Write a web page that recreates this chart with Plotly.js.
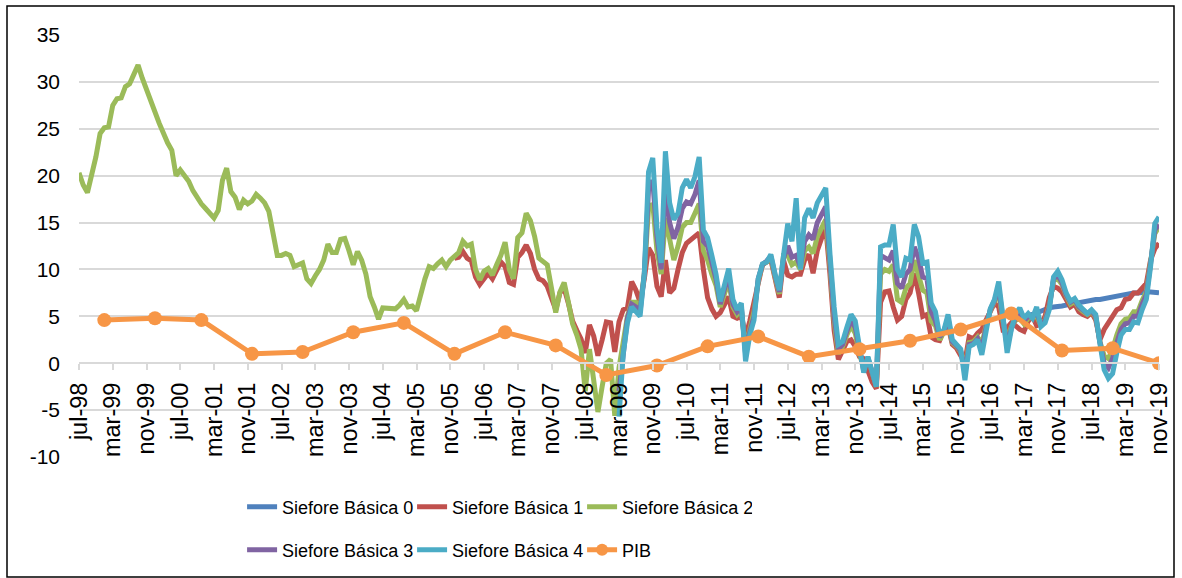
<!DOCTYPE html>
<html>
<head>
<meta charset="utf-8">
<script src="https://cdn.plot.ly/plotly-3.0.1.min.js"></script>
<style>html,body{margin:0;padding:0;background:#fff;}#chart{width:1182px;height:578px;}</style>
</head>
<body>
<div id="chart"></div>
<script>
// Monthly categories: jul-98 .. nov-19 (257 months)
var monthNames = ['ene','feb','mar','abr','may','jun','jul','ago','sep','oct','nov','dic'];
var months = [];
for (var i = 0; i < 257; i++) {
  var k = 6 + i;
  var yr = 1998 + Math.floor(k / 12);
  months.push(monthNames[k % 12] + '-' + String(yr % 100).padStart(2, '0'));
}

var tickLabels = ['jul-98','mar-99','nov-99','jul-00','mar-01','nov-01','jul-02','mar-03','nov-03',
  'jul-04','mar-05','nov-05','jul-06','mar-07','nov-07','jul-08','mar-09','nov-09','jul-10','mar-11',
  'nov-11','jul-12','mar-13','nov-13','jul-14','mar-15','nov-15','jul-16','mar-17','nov-17','jul-18',
  'mar-19','nov-19'];

var yTickVals = [-10, -5, 0, 5, 10, 15, 20, 25, 30, 35];
var yTickText = ['-10', '-5', '0', '5', '10', '15', '20', '25', '30', '35'];

// Siefore Básica 2: jul-98 .. nov-19
var sb2 = [
  20.3,19.0,18.2,20.0,22.0,24.5,25.1,25.2,27.5,28.2,
  28.3,29.5,29.8,30.8,31.8,30.4,29.3,28.0,26.8,25.6,
  24.4,23.5,22.7,20.0,20.6,20.0,19.4,18.4,17.6,17.0,
  16.5,15.9,15.5,16.3,19.5,20.8,18.3,17.7,16.4,17.4,
  17.0,17.3,18.0,17.6,17.1,16.2,14.0,11.5,11.5,11.7,
  11.5,10.3,10.5,10.7,9.0,8.5,9.3,10.0,11.0,12.7,
  11.8,11.8,13.2,13.3,12.0,10.5,11.9,11.0,9.5,7.1,
  6.0,4.7,5.9,5.9,5.8,5.8,6.2,6.8,6.0,6.1,
  5.6,7.5,9.0,10.3,10.1,10.6,11.0,10.3,11.0,11.4,
  11.8,13.0,12.5,12.7,10.0,8.9,9.8,10.1,9.4,10.5,
  11.5,12.9,10.0,9.0,13.4,13.9,16.0,15.2,13.5,11.2,
  10.8,10.5,8.0,5.4,7.6,8.6,6.5,4.2,3.0,1.5,
  -3.0,1.5,-1.8,-5.2,-2.5,0.0,0.4,-5.6,-0.5,2.0,
  5.0,6.5,6.5,6.0,9.5,16.5,17.0,12.0,9.5,15.5,
  13.0,11.0,12.5,14.5,15.0,15.0,16.0,17.0,12.0,11.0,
  9.5,8.3,6.0,7.5,8.8,6.0,5.2,5.7,1.5,3.6,
  5.5,8.8,10.5,10.8,11.2,9.2,7.4,11.5,11.5,10.5,
  10.8,10.0,12.0,12.4,11.7,13.5,14.3,15.3,10.5,4.5,
  1.0,1.8,3.0,4.0,3.2,1.0,-0.5,0.5,-1.0,-2.5,
  9.5,10.0,9.8,10.5,6.8,6.5,8.0,8.5,11.0,9.5,
  7.8,7.5,4.5,4.0,2.5,3.3,4.4,2.2,1.8,1.2,
  -0.5,2.2,2.3,2.8,2.0,4.0,5.6,6.6,7.5,4.5,
  2.5,3.9,4.6,4.8,4.2,4.8,4.9,5.0,4.0,4.6,
  6.2,8.8,9.0,8.4,7.2,6.3,6.6,5.9,5.5,5.2,
  5.5,4.9,2.3,0.8,0.5,1.5,3.0,4.2,4.7,4.8,
  5.5,5.5,6.7,7.6,10.8,13.8,14.6
];

// Siefore Básica 1: from dic-05
var sb1Start = 89;
var sb1 = [
  11.2,11.3,11.9,11.2,10.9,9.2,8.4,9.1,9.6,9.0,9.8,
  10.8,10.3,8.6,8.4,11.3,11.8,12.6,11.7,10.0,9.0,
  8.8,8.2,7.0,5.7,7.5,8.0,6.4,4.5,3.5,2.6,
  1.1,4.1,2.9,0.8,2.5,4.4,4.3,1.2,4.4,5.7,
  5.9,8.7,7.8,6.5,9.0,12.3,11.5,8.2,7.1,11.0,
  7.5,8.0,10.0,11.8,12.8,13.2,13.6,13.9,10.0,7.0,
  5.8,5.0,5.4,6.2,7.1,5.0,4.8,5.0,2.8,4.5,
  6.5,9.0,10.5,10.8,11.0,9.0,7.0,11.0,9.4,9.2,
  9.5,9.5,11.0,11.6,9.6,12.0,13.3,14.6,9.5,3.5,
  0.4,1.5,2.3,2.5,1.8,0.7,0.5,-0.8,-2.0,-2.7,
  6.5,7.6,7.7,6.0,4.6,5.0,6.8,7.5,9.6,7.5,
  5.0,5.2,2.8,2.5,2.4,3.5,4.0,2.0,1.6,0.8,
  0.2,2.8,2.6,3.2,3.6,4.6,5.5,6.4,6.0,3.6,
  3.8,4.3,4.0,3.6,3.4,4.5,5.0,4.0,4.2,5.0,
  7.0,8.2,8.0,7.6,6.8,6.0,6.3,5.5,5.2,5.0,
  5.4,4.6,2.5,3.6,4.3,5.0,5.7,5.9,6.8,6.9,
  7.5,7.5,8.0,8.5,11.0,12.2,12.8
];

// Siefore Básica 3 and 4: from mar-09
var sb34Start = 128;
var sb3 = [
  -3.0,1.5,
  4.8,6.3,6.0,5.5,9.5,18.5,19.5,13.5,10.0,19.0,
  15.0,13.3,14.5,16.5,17.2,17.0,18.0,19.5,13.0,12.5,
  10.5,9.0,6.3,8.0,9.5,6.3,5.5,6.0,1.0,3.3,
  5.0,9.0,10.5,10.9,11.4,9.4,7.6,11.2,12.5,11.3,
  11.5,10.3,13.0,13.7,13.2,15.0,15.8,16.7,11.0,5.0,
  1.5,2.0,3.4,4.6,3.8,1.2,-0.8,0.6,-0.8,-2.5,
  11.5,11.2,11.0,12.0,8.5,8.0,9.5,10.0,12.4,11.2,
  9.2,9.0,5.5,4.5,2.8,3.4,4.8,2.3,1.9,1.3,
  -1.0,2.0,2.1,2.6,1.5,3.8,5.7,6.7,8.0,4.8,
  1.8,3.7,4.9,5.3,4.5,5.0,4.9,5.5,4.0,4.5,
  6.0,9.0,9.4,8.6,7.3,6.5,6.8,6.0,5.6,5.3,
  5.6,5.0,2.2,0.0,-0.5,0.5,2.2,3.6,4.2,4.3,
  5.0,5.0,6.3,7.3,10.6,14.2,14.8
];
var sb4 = [
  -5.7,1.0,
  4.3,6.0,5.5,5.0,9.6,20.4,21.9,14.5,10.7,22.6,
  17.1,15.3,16.0,18.7,19.6,18.7,19.9,22.0,14.2,13.4,
  11.5,9.5,6.6,8.5,10.1,6.8,5.7,6.4,0.2,3.0,
  4.6,9.0,10.6,10.8,11.6,9.5,7.8,11.5,14.9,13.0,
  17.6,10.0,15.5,16.5,15.5,17.1,17.8,18.7,11.7,6.0,
  2.0,2.3,3.8,5.2,4.5,1.5,-1.0,0.7,-0.7,-2.5,
  12.4,12.6,12.6,14.8,10.0,9.2,11.2,11.0,14.8,13.5,
  10.7,10.8,6.4,5.5,3.0,3.5,5.2,2.5,2.0,1.5,
  -1.8,1.8,2.0,2.5,0.9,3.5,5.8,6.8,8.7,5.0,
  1.1,3.6,5.3,5.9,4.8,5.3,4.8,6.0,3.9,4.3,
  5.7,9.2,9.8,8.9,7.5,6.6,6.9,6.2,5.8,5.3,
  5.7,5.2,2.1,-0.7,-1.6,-1.1,1.1,3.0,3.6,3.6,
  4.4,4.3,5.7,6.8,10.3,14.9,15.6
];

// Siefore Básica 0: from ene-17
var sb0Start = 222;
var sb0 = [4.6,4.8,5.0,5.1,5.2,5.4,5.6,5.8,5.9,6.0,6.0,6.1,6.2,6.3,6.4,6.4,6.5,6.6,6.7,6.8,
  6.8,6.9,7.0,7.1,7.2,7.3,7.3,7.4,7.5,7.5,7.6,7.6,7.6,7.6,7.5];

// PIB (annual)
var pibX = ['ene-99','ene-00','dic-00','dic-01','dic-02','dic-03','dic-04','dic-05','dic-06','dic-07',
  'dic-08','dic-09','dic-10','dic-11','dic-12','dic-13','dic-14','dic-15','dic-16','dic-17','dic-18','nov-19'];
var pib = [4.6,4.8,4.6,1.0,1.2,3.3,4.3,1.0,3.3,1.9,-1.25,-0.25,1.8,2.85,0.7,1.5,2.4,3.6,5.3,1.35,1.6,0.0];

var colors = {sb0:'#4F81BD', sb1:'#C0504D', sb2:'#9BBB59', sb3:'#8064A2', sb4:'#4BACC6', pib:'#F79646'};
var LW = 5;

var traces = [
  {name:'Siefore Básica 0', x:months.slice(sb0Start), y:sb0, type:'scatter', mode:'lines',
   line:{color:colors.sb0, width:LW}, legend:'legend'},
  {name:'Siefore Básica 1', x:months.slice(sb1Start), y:sb1, type:'scatter', mode:'lines',
   line:{color:colors.sb1, width:LW}, legend:'legend'},
  {name:'Siefore Básica 2', x:months, y:sb2, type:'scatter', mode:'lines',
   line:{color:colors.sb2, width:LW}, legend:'legend'},
  {name:'Siefore Básica 3', x:months.slice(sb34Start), y:sb3, type:'scatter', mode:'lines',
   line:{color:colors.sb3, width:LW}, legend:'legend2'},
  {name:'Siefore Básica 4', x:months.slice(sb34Start), y:sb4, type:'scatter', mode:'lines',
   line:{color:colors.sb4, width:LW}, legend:'legend2'},
  {name:'PIB', x:pibX, y:pib, type:'scatter', mode:'lines+markers',
   line:{color:colors.pib, width:LW}, marker:{color:colors.pib, size:14}, legend:'legend2'}
];

var fontFam = '"Liberation Sans", Arial, sans-serif';
var legendCommon = {
  orientation:'h', xanchor:'left', yanchor:'middle', x:0.151,
  font:{family:fontFam, size:18, color:'#000'},
  entrywidth:125, entrywidthmode:'pixels', traceorder:'normal',
  bgcolor:'rgba(0,0,0,0)', itemsizing:'constant'
};

var layout = {
  width:1182, height:578,
  margin:{l:79, r:23, t:35, b:121, autoexpand:false},
  paper_bgcolor:'#fff', plot_bgcolor:'#fff',
  font:{family:fontFam, color:'#000'},
  showlegend:true,
  xaxis:{
    type:'category', categoryorder:'array', categoryarray:months,
    range:[0, 256], anchor:'free', position:10/45,
    tickmode:'array', tickvals:tickLabels, ticktext:tickLabels,
    tickangle:-90, tickfont:{family:fontFam, size:23.5, color:'#000'},
    ticklabelstandoff:3,
    showgrid:false, zeroline:false,
    showline:true, linecolor:'#d9d9d9', linewidth:2,
    ticks:'outside', ticklen:6, tickwidth:2, tickcolor:'#d9d9d9',
    fixedrange:true
  },
  yaxis:{
    range:[-10, 35], tickmode:'array', tickvals:yTickVals, ticktext:yTickText,
    showgrid:true, gridcolor:'#d9d9d9', gridwidth:2,
    zeroline:false, showline:false, ticks:'',
    tickfont:{family:fontFam, size:21, color:'#000'},
    ticklabelstandoff:18, fixedrange:true
  },
  legend: Object.assign({}, legendCommon, {y:(457-507)/422}),
  legend2: Object.assign({}, legendCommon, {y:(457-550)/422}),
  shapes:[{type:'rect', xref:'paper', yref:'paper',
    x0:(7-79)/1080, x1:(1174-79)/1080, y0:(457-577)/422, y1:(457-6)/422,
    line:{color:'#000', width:1.5}, fillcolor:'rgba(0,0,0,0)', layer:'below'}]
};

Plotly.newPlot('chart', traces, layout, {displayModeBar:false, staticPlot:true});
</script>
</body>
</html>
